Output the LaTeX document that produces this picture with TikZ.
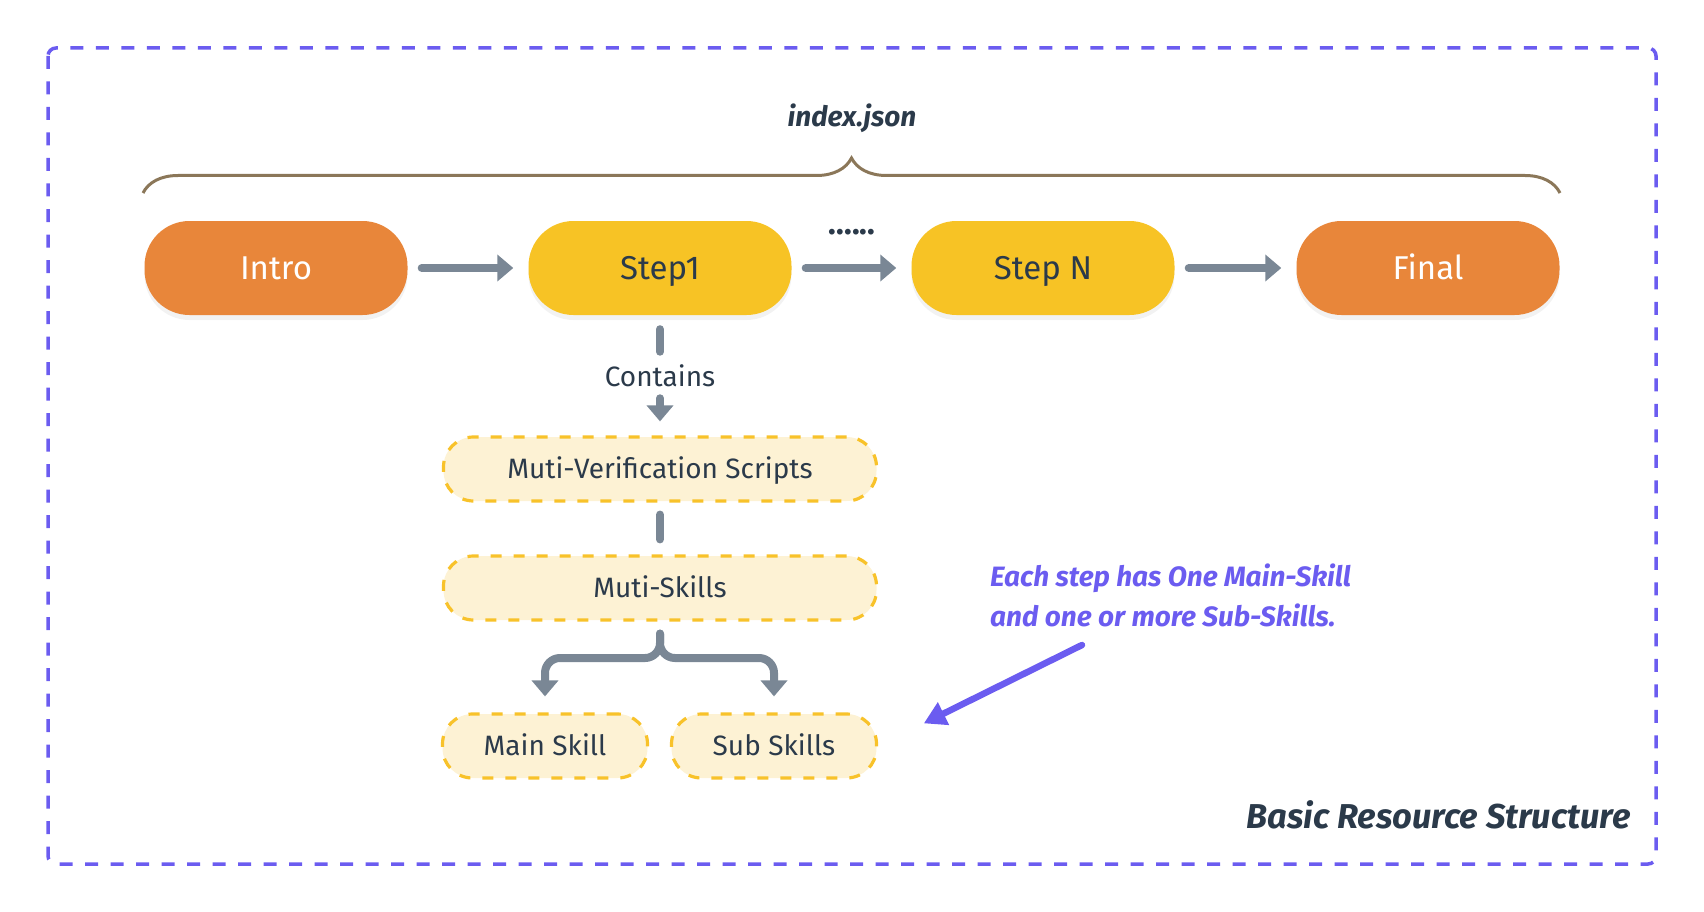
\documentclass[tikz,border=0pt]{standalone}
\usepackage{fontspec}
\setmainfont{Fira Sans}
\usepackage{xcolor}
\usetikzlibrary{arrows.meta,positioning,shadows,decorations.pathreplacing}

\definecolor{inkdark}{HTML}{2B3A4A}
\definecolor{endorange}{HTML}{E8863A}
\definecolor{stepyellow}{HTML}{F7C325}
\definecolor{boxfill}{HTML}{FDF2D4}
\definecolor{boxline}{HTML}{F8C22A}
\definecolor{flowgray}{HTML}{7A8795}
\definecolor{notepurple}{HTML}{6B5CF0}
\definecolor{bracebrown}{HTML}{8B7759}

\tikzset{
  stage/.style={rectangle, rounded corners=45pt, minimum width=263pt, minimum height=94pt,
    inner sep=0pt, text height=23pt, text depth=0pt,
    font=\fontsize{33}{38}\selectfont, text=inkdark,
    drop shadow={opacity=0.10, shadow xshift=0pt, shadow yshift=-5pt}},
  part/.style={rectangle, rounded corners=30pt, minimum height=64pt, inner sep=0pt,
    text height=19.5pt, text depth=0pt,
    fill=boxfill, draw=boxline, line width=3.2pt, dash pattern=on 11pt off 12pt,
    font=\fontsize{28}{34}\selectfont, text=inkdark},
  plain/.style={inner sep=0pt, font=\fontsize{28}{34}\selectfont, text=inkdark},
  flow/.style={draw=flowgray, line width=8pt, line cap=round, -{Triangle[length=16pt,width=26pt]}},
  link/.style={draw=flowgray, line width=8pt, line cap=round},
  pointer/.style={draw=notepurple, line width=6.5pt, line cap=round, -{Triangle[length=22pt,width=24pt]}},
}

\begin{document}
\begin{tikzpicture}[x=1pt,y=-1pt]
  \useasboundingbox (0,0) rectangle (1704,912);

  % frame
  \draw[notepurple, line width=3.5pt, dash pattern=on 13pt off 12.5pt, rounded corners=8pt]
    (48,48) rectangle (1656,864);

  % index.json brace
  \draw[bracebrown, line width=3pt, decorate, decoration={brace, amplitude=35pt}]
    (143,193) -- (1560,193);
  \node[plain, font=\fontsize{28}{32}\selectfont\bfseries\itshape, anchor=base] (json)
    at (852,127) {index.json};

  % steps
  \node[stage, fill=endorange, text=white] (intro) at (276,268) {Intro};
  \node[stage, fill=stepyellow] (step1) at (660,268) {Step1};
  \node[stage, fill=stepyellow] (stepN) at (1043,268) {Step N};
  \node[stage, fill=endorange, text=white] (final) at (1428,268) {Final};

  \draw[flow, shorten <=14pt, shorten >=15pt] (intro) -- (step1);
  \draw[flow, shorten <=14pt, shorten >=15pt] (step1) -- (stepN);
  \draw[flow, shorten <=14pt, shorten >=15pt] (stepN) -- (final);
  \node[plain, font=\fontsize{32}{34}\selectfont\bfseries, anchor=base] (dots) at (852,234) {......};

  % contents of a step
  \node[plain] (contains) at (660,376) {Contains};
  \node[part, minimum width=433pt] (verify) at (660,469) {Muti-Verification Scripts};
  \node[part, minimum width=433pt] (skills) at (660,588) {Muti-Skills};
  \node[part, minimum width=205pt] (mainskill) at (545,746) {Main Skill};
  \node[part, minimum width=205pt] (subskills) at (774,746) {Sub Skills};

  \draw[link, shorten <=14pt, shorten >=13pt] (step1) -- (contains);
  \draw[flow, shorten <=11pt, shorten >=14pt] (contains) -- (verify);
  \draw[link, shorten <=12pt, shorten >=15pt] (verify) -- (skills);

  \coordinate (fork) at (660,658);
  \draw[flow, rounded corners=15pt, shorten <=12pt, shorten >=16pt]
    (skills.south) |- (mainskill.north |- fork) -- (mainskill.north);
  \draw[flow, rounded corners=15pt, shorten <=12pt, shorten >=16pt]
    (skills.south) |- (subskills.north |- fork) -- (subskills.north);

  % note
  \node[plain, font=\fontsize{28}{40}\selectfont\bfseries\itshape, text=notepurple,
    align=left, anchor=north west] (note) at (990,564)
    {Each step has One Main-Skill\\and one or more Sub-Skills.};
  \coordinate (tail) at (1082,645);
  \draw[pointer, shorten >=51pt] (tail) -- (subskills.east);

  \node[plain, font=\fontsize{34.5}{38}\selectfont\bfseries\itshape, anchor=base east] (title)
    at (1631,828) {Basic Resource Structure};
\end{tikzpicture}
\end{document}
